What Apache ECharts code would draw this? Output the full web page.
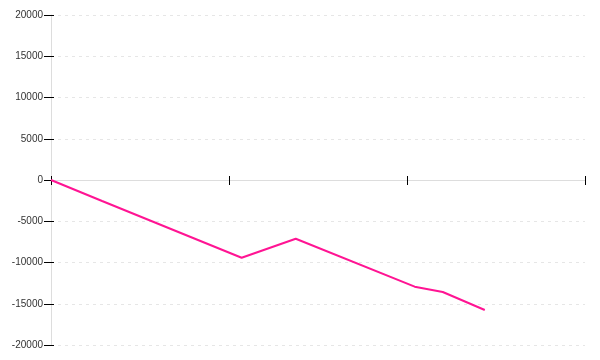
<!DOCTYPE html>
<html>
<head>
<meta charset="utf-8">
<script src="https://cdn.jsdelivr.net/npm/echarts@6/dist/echarts.min.js"></script>
<style>html,body{margin:0;padding:0;background:#fff}#c{width:600px;height:360px}</style>
</head>
<body>
<div id="c"></div>
<script>
const xValues = [0, 0.287, 1.071, 1.375, 2.043, 2.201, 2.437];
const yValues = [0, -2550, -9420, -7120, -12930, -13580, -15760];
const yTicks = [-20000, -15000, -10000, -5000, 0, 5000, 10000, 15000, 20000];

const chart = echarts.init(document.getElementById('c'), null, {renderer: 'canvas'});
const yMin = yTicks[0], yMax = yTicks[yTicks.length - 1], yStep = yTicks[1] - yTicks[0];
const tickColor = '#000';
chart.setOption({
  animation: false,
  grid: {left: 51, right: 15, top: 15, bottom: 15, containLabel: false},
  xAxis: [
    {
      type: 'value', min: 0, max: 3, interval: 1, position: 'bottom',
      axisLine: {show: true, onZero: true, onZeroAxisIndex: 0, lineStyle: {color: '#ddd', width: 1}},
      axisTick: {show: true, length: 5, lineStyle: {color: tickColor, width: 1}},
      axisLabel: {show: false}, splitLine: {show: false}
    },
    {
      type: 'value', min: 0, max: 3, interval: 1, position: 'bottom',
      axisLine: {show: true, onZero: true, onZeroAxisIndex: 1, lineStyle: {color: '#ddd', width: 1}},
      axisTick: {show: true, inside: true, length: 4, lineStyle: {color: tickColor, width: 1}},
      axisLabel: {show: false}, splitLine: {show: false}
    }
  ],
  yAxis: [
    {
      type: 'value', min: yMin, max: yMax, interval: yStep, position: 'left',
      axisLine: {show: true, onZero: false, lineStyle: {color: '#ddd', width: 1}},
      axisTick: {show: true, length: 7, lineStyle: {color: tickColor, width: 1}},
      axisLabel: {show: true, margin: 8, color: '#333', fontSize: 10, fontFamily: 'Liberation Sans',
        formatter: v => String(v)},
      splitLine: {show: true, lineStyle: {color: '#e6e6e6', type: [3, 4], width: 1}}
    },
    {
      type: 'value', min: yMin, max: yMax, interval: yStep, position: 'left',
      axisLine: {show: false, onZero: false},
      axisTick: {show: true, inside: true, length: 3, lineStyle: {color: tickColor, width: 1}},
      axisLabel: {show: false}, splitLine: {show: false}
    }
  ],
  series: [{
    type: 'line',
    xAxisIndex: 0, yAxisIndex: 0,
    data: xValues.map((x, i) => [x, yValues[i]]),
    showSymbol: false,
    lineStyle: {color: '#ff1493', width: 2},
    itemStyle: {color: '#ff1493'}
  }]
});
</script>
</body>
</html>
